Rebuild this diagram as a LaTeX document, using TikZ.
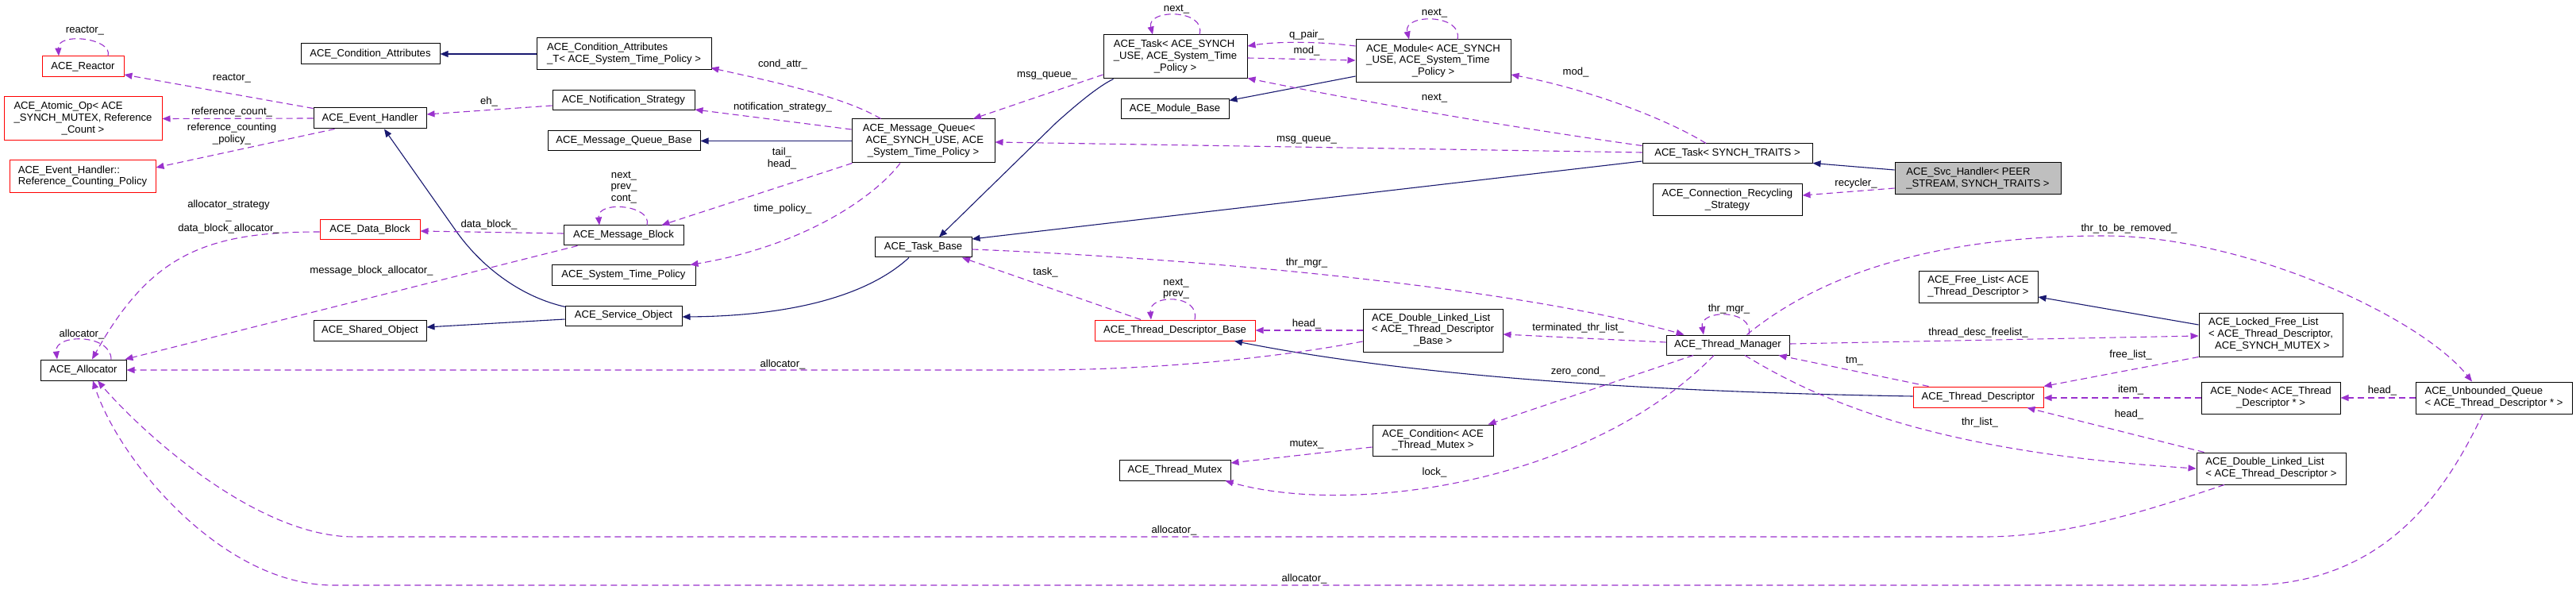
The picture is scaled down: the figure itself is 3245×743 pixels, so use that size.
\documentclass[tikz,border=0pt]{standalone}
\usepackage{fontspec}
\setmainfont{Liberation Sans}
\usetikzlibrary{arrows.meta,calc}
\definecolor{usecol}{RGB}{154,50,205}
\definecolor{inhcol}{RGB}{25,25,112}
\definecolor{svcfill}{RGB}{191,191,191}
\newcommand{\twol}[2]{\begin{tabular}{@{}l@{}}#1\\\multicolumn{1}{@{}c@{}}{#2}\end{tabular}}
\newcommand{\threel}[3]{\begin{tabular}{@{}l@{}}#1\\#2\\\multicolumn{1}{@{}c@{}}{#3}\end{tabular}}
\begin{document}
\begin{tikzpicture}[x=1pt,y=-1pt,
  every node/.style={font=\fontsize{13.1}{14.7}\selectfont, inner sep=0pt},
  cls/.style={draw=black, line width=1pt, fill=white, inner sep=0pt},
  redcls/.style={cls, draw=red},
  lbl/.style={align=center},
  use/.style={draw=usecol, line width=1.1pt, dash pattern=on 8pt off 5pt, -{Triangle[length=10pt,width=8pt]}},
  inh/.style={draw=inhcol, line width=1.1pt, -{Triangle[length=10pt,width=8pt]}}]
\fill[white] (0,0) rectangle (3245,743);
\useasboundingbox (0,0) rectangle (3245,743);

% ---------- classes ----------
\node[redcls, minimum width=103pt, minimum height=26pt] (reactor) at (104.5,84) {ACE\_Reactor};
\node[redcls, minimum width=199pt, minimum height=55pt] (atomic) at (104.5,149.5) {\threel{ACE\_Atomic\_Op< ACE}{\_SYNCH\_MUTEX, Reference}{\_Count >}};
\node[redcls, minimum width=184pt, minimum height=41pt] (rcp) at (104,222.5) {\twol{ACE\_Event\_Handler::}{Reference\_Counting\_Policy}};
\node[cls, minimum width=175pt, minimum height=26pt] (condattr) at (466.5,68) {ACE\_Condition\_Attributes};
\node[cls, minimum width=142pt, minimum height=26pt] (eh) at (466,149) {ACE\_Event\_Handler};
\node[redcls, minimum width=126pt, minimum height=25pt] (datablock) at (466,289.5) {ACE\_Data\_Block};
\node[cls, minimum width=142pt, minimum height=26pt] (shared) at (466,416) {ACE\_Shared\_Object};
\node[cls, minimum width=108pt, minimum height=26pt] (alloc) at (105,466) {ACE\_Allocator};
\node[cls, minimum width=220pt, minimum height=40pt] (condattrT) at (786,68) {\twol{ACE\_Condition\_Attributes}{\_T< ACE\_System\_Time\_Policy >}};
\node[cls, minimum width=179pt, minimum height=25pt] (notif) at (785.5,126.5) {ACE\_Notification\_Strategy};
\node[cls, minimum width=192pt, minimum height=25pt] (mqbase) at (786,177.5) {ACE\_Message\_Queue\_Base};
\node[cls, minimum width=151pt, minimum height=25pt] (mblock) at (785.5,296.5) {ACE\_Message\_Block};
\node[cls, minimum width=181pt, minimum height=25pt] (stp) at (785.5,346.5) {ACE\_System\_Time\_Policy};
\node[cls, minimum width=147pt, minimum height=25pt] (service) at (785.5,397.5) {ACE\_Service\_Object};
\node[cls, minimum width=180pt, minimum height=55pt] (mq) at (1163,177.5) {\threel{ACE\_Message\_Queue<}{\ ACE\_SYNCH\_USE, ACE}{\_System\_Time\_Policy >}};
\node[cls, minimum width=122pt, minimum height=25pt] (taskbase) at (1163,311.5) {ACE\_Task\_Base};
\node[cls, minimum width=181pt, minimum height=55pt] (taskA) at (1480.5,71.5) {\threel{ACE\_Task< ACE\_SYNCH}{\_USE, ACE\_System\_Time}{\_Policy >}};
\node[cls, minimum width=136pt, minimum height=25pt] (modbase) at (1480,137.5) {ACE\_Module\_Base};
\node[cls, minimum width=195pt, minimum height=54pt] (module) at (1805.5,77) {\threel{ACE\_Module< ACE\_SYNCH}{\_USE, ACE\_System\_Time}{\_Policy >}};
\node[redcls, minimum width=202pt, minimum height=26pt] (tdb) at (1480,416) {ACE\_Thread\_Descriptor\_Base};
\node[cls, minimum width=176pt, minimum height=54pt] (dlltdb) at (1805,416) {\threel{ACE\_Double\_Linked\_List}{< ACE\_Thread\_Descriptor}{\_Base >}};
\node[cls, minimum width=152pt, minimum height=39pt] (cond) at (1805,554.5) {\twol{ACE\_Condition< ACE}{\_Thread\_Mutex >}};
\node[cls, minimum width=140pt, minimum height=26pt] (mutex) at (1480,592) {ACE\_Thread\_Mutex};
\node[cls, minimum width=214pt, minimum height=25pt] (taskST) at (2176,193.5) {ACE\_Task< SYNCH\_TRAITS >};
\node[cls, fill=svcfill, minimum width=209pt, minimum height=40pt] (svc) at (2491.5,225) {\twol{ACE\_Svc\_Handler< PEER}{\_STREAM, SYNCH\_TRAITS >}};
\node[cls, minimum width=188pt, minimum height=40pt] (crs) at (2176,252) {\twol{ACE\_Connection\_Recycling}{\_Strategy}};
\node[cls, minimum width=155pt, minimum height=25pt] (tm) at (2176.5,434.5) {ACE\_Thread\_Manager};
\node[cls, minimum width=150pt, minimum height=40pt] (freelist) at (2492,361) {\twol{ACE\_Free\_List< ACE}{\_Thread\_Descriptor >}};
\node[redcls, minimum width=164pt, minimum height=26pt] (td) at (2492,500) {ACE\_Thread\_Descriptor};
\node[cls, minimum width=181pt, minimum height=55pt] (lfl) at (2860.5,421.5) {\threel{ACE\_Locked\_Free\_List}{< ACE\_Thread\_Descriptor,}{\ ACE\_SYNCH\_MUTEX >}};
\node[cls, minimum width=175pt, minimum height=40pt] (node) at (2860.5,501) {\twol{ACE\_Node< ACE\_Thread}{\_Descriptor * >}};
\node[cls, minimum width=197pt, minimum height=40pt] (uq) at (3141.5,501) {\twol{ACE\_Unbounded\_Queue}{< ACE\_Thread\_Descriptor * >}};
\node[cls, minimum width=188pt, minimum height=40pt] (dlltd) at (2861,590) {\twol{ACE\_Double\_Linked\_List}{< ACE\_Thread\_Descriptor >}};

% ---------- inheritance ----------
\draw[inh] (condattrT.west) -- (condattr.east);
\draw[inh] (mq.west) -- (mqbase.east);
\draw[inh] ($(service)+(-73,-11)$) .. controls (660,375) and (610,340) .. (576,293) -- ($(eh.south)+(18,0)$);
\draw[inh] ($(service.west)+(0,4.5)$) -- ($(shared.east)+(0,-4)$);
\draw[inh] ($(taskbase.south)+(-18,0)$) .. controls (1090,375) and (990,398) .. ($(service.east)+(0,1.5)$);
\draw[inh] ($(taskA.south west)+(13,0)$) .. controls (1385,108) and (1360,128) .. (1330,155) -- ($(taskbase.north)+(20,0)$);
\draw[inh] ($(module.west)+(0,19)$) -- ($(modbase.east)+(0,-11)$);
\draw[inh] ($(taskST.west)+(0,9.5)$) -- ($(taskbase.east)+(0,-10.5)$);
\draw[inh] ($(svc.west)+(0,-11)$) -- ($(taskST.south east)+(0,-1)$);
\draw[inh] ($(td.west)+(0,-1)$) .. controls (2100,494) and (1790,476) .. ($(tdb.south)+(75,0)$);
\draw[inh] ($(lfl.west)+(0,-12.5)$) -- ($(freelist.east)+(0,13)$);

% ---------- usage ----------
\draw[use] ($(reactor.north)+(31.5,0)$) .. controls (143,48) and (72,40) .. ($(reactor.north)+(-30.5,0)$);
\draw[use] ($(eh.north west)+(0,1)$) -- ($(reactor.east)+(0,10)$);
\draw[use] (eh.west) -- (atomic.east);
\draw[use] ($(eh.south west)+(27,0)$) -- ($(rcp.east)+(0,-11.5)$);
\draw[use] ($(notif.west)+(0,6.5)$) -- ($(eh.east)+(0,-5)$);
\draw[use] ($(mq.north west)+(37,0)$) .. controls (1060,120) and (960,100) .. ($(condattrT.south east)+(-1,-3)$);
\draw[use] ($(mq.west)+(0,-14.5)$) -- ($(notif.east)+(0,11.5)$);
\draw[use] ($(mq.south west)+(1,0)$) -- ($(mblock.north east)+(-28,0)$);
\draw[use] ($(mq.south)+(-29,0)$) .. controls (1100,250) and (1010,310) .. ($(stp.north east)+(-7,0)$);
\draw[use] ($(mblock.north)+(29.5,0)$) .. controls (822,258) and (752,252) .. ($(mblock.north)+(-30.5,0)$);
\draw[use] ($(mblock.west)+(0,-2.5)$) -- ($(datablock.east)+(0,1.5)$);
\draw[use] ($(datablock.west)+(0,2.5)$) .. controls (260,292) and (190,320) .. ($(alloc.north)+(11,0)$);
\draw[use] ($(mblock.south west)+(18,0)$) -- ($(alloc.north east)+(-2,0)$);
\draw[use] ($(alloc.north)+(35,0)$) .. controls (140,420) and (68,420) .. ($(alloc.north)+(-33,0)$);
\draw[use] ($(dlltdb.west)+(0,14)$) .. controls (1600,452) and (1450,466) .. (1300,466) -- (alloc.east);
\draw[use] ($(dlltd.south)+(-59,0)$) .. controls (2700,645) and (2600,676) .. (2500,676) -- (446,676) .. controls (320,676) and (175,540) .. ($(alloc.south)+(18,0)$);
\draw[use] ($(uq.south)+(-14,0)$) .. controls (3085,610) and (3010,737) .. (2830,737) -- (420,737) .. controls (280,737) and (150,580) .. ($(alloc.south)+(12,0)$);
\draw[use] ($(taskA.north)+(30.5,0)$) .. controls (1520,11) and (1444,11) .. ($(taskA.north)+(-28.5,0)$);
\draw[use] ($(module.north)+(30.5,0)$) .. controls (1843,17) and (1767,17) .. ($(module.north)+(-30.5,0)$);
\draw[use] ($(taskA.west)+(0,22.5)$) -- ($(mq.north)+(63,0)$);
\draw[use] ($(module.west)+(0,-19)$) .. controls (1660,52) and (1610,52) .. ($(taskA.east)+(0,-13.5)$);
\draw[use] ($(taskA.east)+(0,1.5)$) -- ($(module.west)+(0,-1)$);
\draw[use] ($(taskST.north)+(-27,0)$) .. controls (2100,150) and (2000,112) .. ($(module.east)+(0,17)$);
\draw[use] ($(taskST.north west)+(0,3)$) .. controls (1900,160) and (1700,125) .. ($(taskA.south east)+(0,-1)$);
\draw[use] ($(taskST.west)+(0,-1.5)$) -- ($(mq.east)+(0,1.5)$);
\draw[use] ($(svc.west)+(0,12)$) -- ($(crs.east)+(0,-6)$);
\draw[use] ($(taskbase.east)+(0,2.5)$) .. controls (1500,325) and (1900,360) .. ($(tm.north west)+(23,0)$);
\draw[use] ($(tdb.north)+(-43,0)$) -- ($(taskbase.south)+(49,0)$);
\draw[use] ($(tdb.north)+(25,0)$) .. controls (1512,370) and (1447,370) .. ($(tdb.north)+(-30,0)$);
\draw[use] (dlltdb.west) -- (tdb.east);
\draw[use] ($(tm.west)+(0,-3.5)$) -- ($(dlltdb.east)+(0,5)$);
\draw[use] ($(tm.north)+(26.5,0)$) .. controls (2210,389) and (2140,389) .. ($(tm.north)+(-30.5,0)$);
\draw[use] ($(tm.south)+(-43.5,0)$) -- ($(cond.north east)+(-7,0)$);
\draw[use] ($(cond.west)+(0,8.5)$) -- ($(mutex.east)+(0,-9)$);
\draw[use] ($(tm.south)+(-17.5,0)$) .. controls (2000,610) and (1700,650) .. ($(mutex.south east)+(-7,0)$);
\draw[use] ($(tm.east)+(0,-1.5)$) -- ($(lfl.west)+(0,1.5)$);
\draw[use] ($(tm.north)+(24,0)$) .. controls (2300,340) and (2450,297) .. (2650,297) .. controls (2830,297) and (3050,400) .. ($(uq.north)+(-27.5,0)$);
\draw[use] ($(tm.south)+(21.5,0)$) .. controls (2300,510) and (2450,570) .. (dlltd.west);
\draw[use] ($(td.north west)+(20,0)$) -- ($(tm.south east)+(-14,0)$);
\draw[use] (lfl.south west) -- (td.north east);
\draw[use] (node.west) -- ($(td.east)+(0,1)$);
\draw[use] ($(dlltd.north west)+(10,0)$) -- ($(td.south east)+(-21,0)$);
\draw[use] (uq.west) -- (node.east);

% ---------- labels ----------
\node[lbl] (l01) at (107,39) {reactor\_};
\node[lbl] (l02) at (292,99) {reactor\_};
\node[lbl] (l03) at (292,141) {reference\_count\_};
\node[lbl] (l04) at (292,168.5) {reference\_counting\\\_policy\_};
\node[lbl] (l05) at (616,128) {eh\_};
\node[lbl] (l06) at (288,273) {allocator\_strategy\\\_\\data\_block\_allocator\_};
\node[lbl] (l07) at (616,283) {data\_block\_};
\node[lbl] (l08) at (468,341) {message\_block\_allocator\_};
\node[lbl] (l09) at (103,421) {allocator\_};
\node[lbl] (l10) at (986,81) {cond\_attr\_};
\node[lbl] (l11) at (986,135) {notification\_strategy\_};
\node[lbl] (l12) at (985,199.5) {tail\_\\head\_};
\node[lbl] (l13) at (786,236) {next\_\\prev\_\\cont\_};
\node[lbl] (l14) at (986,263) {time\_policy\_};
\node[lbl] (l15) at (1319,95) {msg\_queue\_};
\node[lbl] (l16) at (1317,343) {task\_};
\node[lbl] (l17) at (986,459) {allocator\_};
\node[lbl] (l18) at (1482,12) {next\_};
\node[lbl] (l19) at (1807,17) {next\_};
\node[lbl] (l20) at (1646,44) {q\_pair\_};
\node[lbl] (l21) at (1646,64) {mod\_};
\node[lbl] (l22) at (1807,124) {next\_};
\node[lbl] (l23) at (1646,176) {msg\_queue\_};
\node[lbl] (l24) at (1985,91) {mod\_};
\node[lbl] (l25) at (1646,331) {thr\_mgr\_};
\node[lbl] (l26) at (1481.5,363.5) {next\_\\prev\_};
\node[lbl] (l27) at (1646,408) {head\_};
\node[lbl] (l28) at (1646,560) {mutex\_};
\node[lbl] (l29) at (1807,595) {lock\_};
\node[lbl] (l30) at (1479,668) {allocator\_};
\node[lbl] (l31) at (1643,729) {allocator\_};
\node[lbl] (l32) at (1988,413) {terminated\_thr\_list\_};
\node[lbl] (l33) at (1988,468) {zero\_cond\_};
\node[lbl] (l34) at (2338,231) {recycler\_};
\node[lbl] (l35) at (2682,288) {thr\_to\_be\_removed\_};
\node[lbl] (l36) at (2178,389) {thr\_mgr\_};
\node[lbl] (l37) at (2492,419) {thread\_desc\_freelist\_};
\node[lbl] (l38) at (2336,455) {tm\_};
\node[lbl] (l39) at (2494,532) {thr\_list\_};
\node[lbl] (l40) at (2684,447) {free\_list\_};
\node[lbl] (l41) at (2684,491) {item\_};
\node[lbl] (l42) at (2682,522) {head\_};
\node[lbl] (l43) at (3001,492) {head\_};
\end{tikzpicture}
\end{document}
